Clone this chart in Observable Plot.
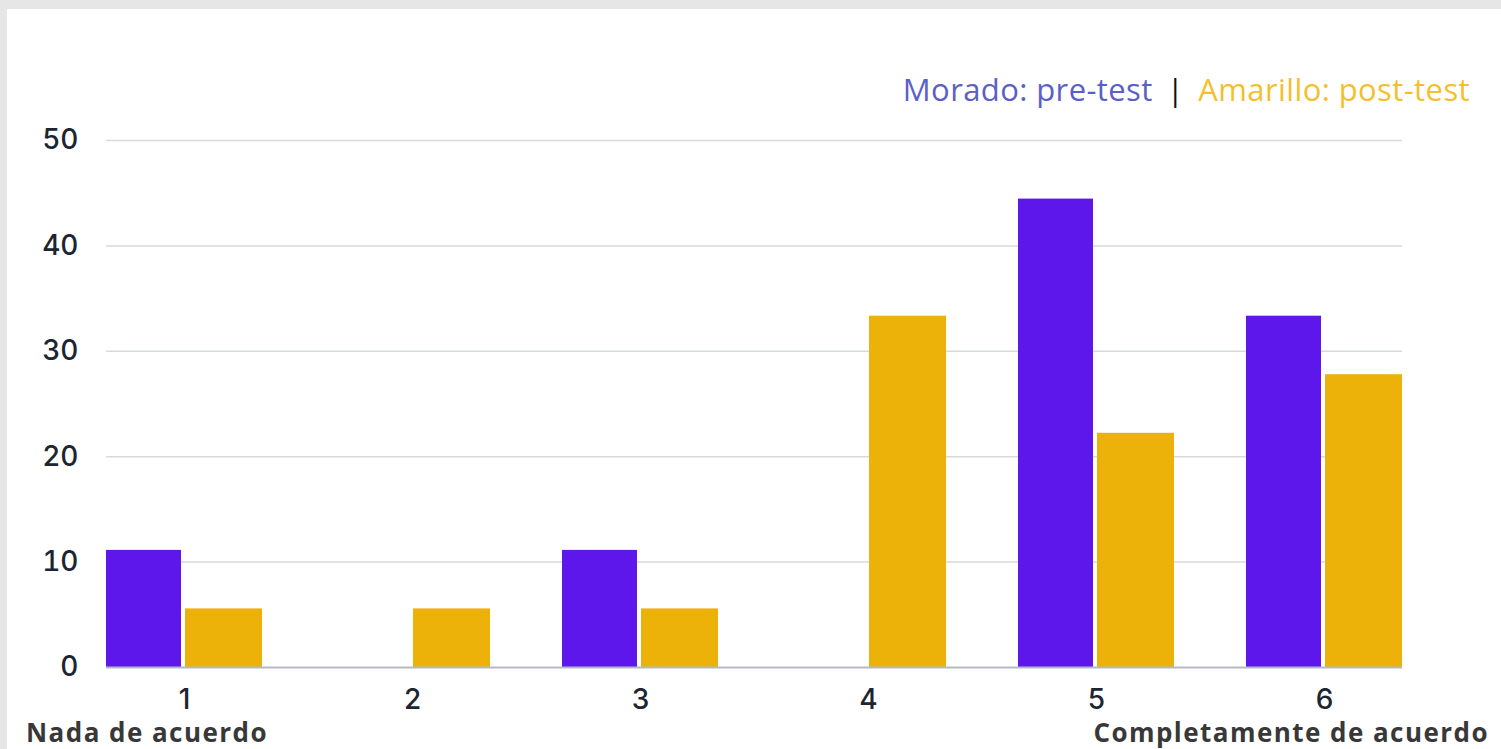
<!DOCTYPE html>
<html>
<head>
<meta charset="utf-8">
<script src="https://cdn.jsdelivr.net/npm/d3@7"></script>
<script src="https://cdn.jsdelivr.net/npm/@observablehq/plot@0.6"></script>
<style>
  html, body { margin: 0; padding: 0; width: 1501px; height: 749px; overflow: hidden; background: #e6e6e6; }
  #panel { position: absolute; left: 7px; top: 9px; width: 1494px; height: 740px; background: #ffffff; }
  #chart { position: absolute; left: 0; top: 100px; }
  #chart svg { background: transparent !important; }
  #legend { position: absolute; right: 31px; top: 70px; font-family: "Open Sans", sans-serif; font-size: 31px; letter-spacing: 0.4px; line-height: 38px; white-space: nowrap; }
  #legend .pre { color: #5a60c6; }
  #legend .sep { color: #111111; margin: 0 14px; }
  #legend .post { color: #f4bf2e; }
  .end { position: absolute; top: 712px; font-family: "Open Sans", sans-serif; font-weight: 700; font-size: 26px; letter-spacing: 1.45px; line-height: 40px; color: #383838; white-space: nowrap; }
  #left { left: 26px; }
  #right { right: 12px; }
</style>
</head>
<body>
<div id="panel"></div>
<div id="legend"><span class="pre">Morado: pre-test</span><span class="sep">|</span><span class="post">Amarillo: post-test</span></div>
<div id="chart"></div>
<div class="end" id="left">Nada de acuerdo</div>
<div class="end" id="right">Completamente de acuerdo</div>
<script>
const categories = ["1", "2", "3", "4", "5", "6"];
const preTest = [11.11, 0, 11.11, 0, 44.44, 33.33];
const postTest = [5.56, 5.56, 5.56, 33.33, 22.22, 27.78];
const yTicks = [0, 10, 20, 30, 40, 50];

const preData = categories.map((c, i) => ({cat: c, value: preTest[i]}));
const postData = categories.map((c, i) => ({cat: c, value: postTest[i]}));

const chart = Plot.plot({
  width: 1501,
  height: 620,
  marginLeft: 106,
  marginRight: 99,
  marginTop: 40,
  marginBottom: 53,
  style: {fontFamily: "Inter, sans-serif", fontSize: "28px", fontWeight: 500, color: "#1c2530", background: "transparent", overflow: "visible"},
  x: {type: "band", domain: categories, paddingInner: 0.316, paddingOuter: 0, tickSize: 0, tickPadding: 22, label: null},
  y: {domain: [0, 50], ticks: yTicks, tickSize: 0, tickPadding: 28, label: null},
  marks: [
    Plot.ruleY(yTicks.filter(d => d !== 0), {stroke: "#d6d9de", strokeWidth: 1.5}),
    Plot.barY(preData, {x: "cat", y: "value", fill: "#5e17eb", insetRight: 81}),
    Plot.barY(postData, {x: "cat", y: "value", fill: "#ecb20a", insetLeft: 79}),
    Plot.ruleY([0], {stroke: "#b3bac3", strokeWidth: 2})
  ]
});
document.getElementById("chart").appendChild(chart);
</script>
</body>
</html>
